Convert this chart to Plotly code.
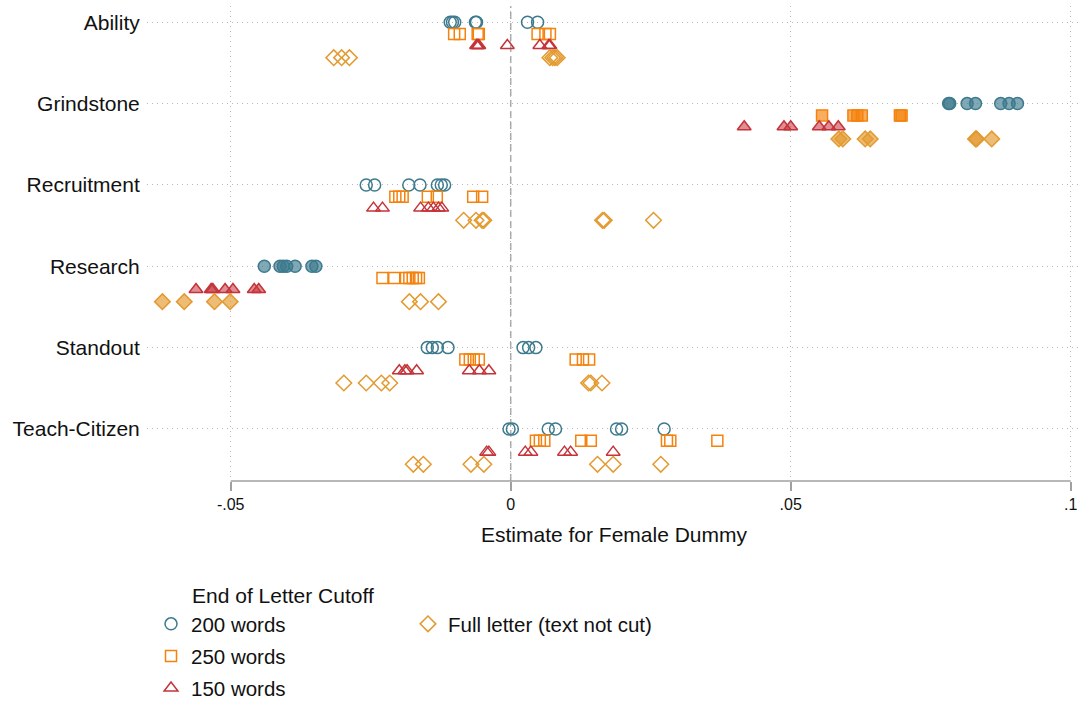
import plotly.graph_objects as go

categories = ["Ability", "Grindstone", "Recruitment", "Research", "Standout", "Teach-Citizen"]

# estimates for the female dummy, one list per category (top to bottom)
words_200 = [
    [-0.0108, -0.0104, -0.0100, -0.0063, -0.0061, 0.0030, 0.0048],
    [0.0782, 0.0784, 0.0815, 0.0830, 0.0875, 0.0890, 0.0905],
    [-0.0258, -0.0243, -0.0182, -0.0162, -0.0131, -0.0124, -0.0118],
    [-0.0440, -0.0412, -0.0406, -0.0400, -0.0385, -0.0355, -0.0348],
    [-0.0149, -0.0140, -0.0131, -0.0112, 0.0022, 0.0032, 0.0045],
    [-0.0003, 0.0003, 0.0067, 0.0080, 0.0189, 0.0198, 0.0274],
]
words_250 = [
    [-0.0101, -0.0091, -0.0059, -0.0057, 0.0048, 0.0062, 0.0070],
    [0.0556, 0.0612, 0.0619, 0.0627, 0.0695, 0.0698],
    [-0.0206, -0.0199, -0.0193, -0.0148, -0.0132, -0.0067, -0.0051],
    [-0.0229, -0.0208, -0.0187, -0.0181, -0.0175, -0.0169, -0.0164],
    [-0.0081, -0.0073, -0.0066, -0.0057, 0.0116, 0.0129, 0.0140],
    [0.0045, 0.0052, 0.0060, 0.0126, 0.0143, 0.0279, 0.0285, 0.0369],
]
words_150 = [
    [-0.0061, -0.0059, -0.0057, -0.0006, 0.0052, 0.0068, 0.0070],
    [0.0417, 0.0488, 0.0500, 0.0551, 0.0568, 0.0585],
    [-0.0245, -0.0229, -0.0161, -0.0147, -0.0138, -0.0129, -0.0123],
    [-0.0562, -0.0535, -0.0532, -0.0510, -0.0496, -0.0458, -0.0450],
    [-0.0199, -0.0189, -0.0185, -0.0168, -0.0074, -0.0056, -0.0039],
    [-0.0043, -0.0039, 0.0026, 0.0036, 0.0096, 0.0107, 0.0183],
]
full_letter = [
    [-0.0316, -0.0302, -0.0288, 0.0070, 0.0075, 0.0079, 0.0083],
    [0.0586, 0.0593, 0.0633, 0.0642, 0.0830, 0.0832, 0.0859],
    [-0.0084, -0.0062, -0.0051, -0.0048, 0.0164, 0.0167, 0.0255],
    [-0.0622, -0.0583, -0.0529, -0.0501, -0.0181, -0.0161, -0.0129],
    [-0.0298, -0.0258, -0.0231, -0.0216, 0.0139, 0.0143, 0.0163],
    [-0.0174, -0.0156, -0.0071, -0.0048, 0.0155, 0.0183, 0.0268],
]

# 1 = significant (drawn filled), 0 = hollow
sig_200 = [
    [0, 0, 0, 0, 0, 0, 0],
    [1, 1, 1, 1, 1, 1, 1],
    [0, 0, 0, 0, 0, 0, 0],
    [1, 1, 1, 1, 1, 1, 1],
    [0, 0, 0, 0, 0, 0, 0],
    [0, 0, 0, 0, 0, 0, 0],
]
sig_250 = [
    [0, 0, 0, 0, 0, 0, 0],
    [1, 1, 1, 1, 1, 1],
    [0, 0, 0, 0, 0, 0, 0],
    [0, 0, 0, 0, 0, 0, 0],
    [0, 0, 0, 0, 0, 0, 0],
    [0, 0, 0, 0, 0, 0, 0, 0],
]
sig_150 = [
    [0, 0, 0, 0, 0, 0, 0],
    [1, 1, 1, 1, 1, 1],
    [0, 0, 0, 0, 0, 0, 0],
    [1, 1, 1, 1, 1, 1, 1],
    [0, 0, 0, 0, 0, 0, 0],
    [0, 0, 0, 0, 0, 0, 0],
]
sig_full = [
    [0, 0, 0, 0, 0, 0, 0],
    [1, 1, 1, 1, 1, 1, 1],
    [0, 0, 0, 0, 0, 0, 0],
    [1, 1, 1, 1, 0, 0, 0],
    [0, 0, 0, 0, 0, 0, 0],
    [0, 0, 0, 0, 0, 0, 0],
]

FONT = "Liberation Sans, Arial, Helvetica, sans-serif"

series = [
    # name, values, flags, symbol, line colour, fill colour, row offset, size, legend
    ("200 words", words_200, sig_200, "circle", "#3d7a8e", "rgba(61,122,142,0.65)", 0.0, 12, "legend"),
    ("250 words", words_250, sig_250, "square", "#f5820d", "rgba(245,130,13,0.65)", 0.145, 11, "legend"),
    ("150 words", words_150, sig_150, "triangle-up", "#c5333a", "rgba(197,51,58,0.55)", 0.285, 12, "legend"),
    ("Full letter (text not cut)", full_letter, sig_full, "diamond", "#e39a2f", "rgba(227,154,47,0.65)", 0.435, 12, "legend2"),
]

fig = go.Figure()
for name, vals, flags, sym, col, fill, off, size, leg in series:
    xs, ys, fills = [], [], []
    for i, (row, frow) in enumerate(zip(vals, flags)):
        for v, f in zip(row, frow):
            xs.append(v)
            ys.append(i + off)
            fills.append(fill if f else "rgba(255,255,255,0)")
    fig.add_trace(go.Scatter(
        x=xs, y=ys, mode="markers", name=name, legend=leg,
        legendgroup=name,
        marker=dict(symbol=sym, size=size, color=fills,
                    line=dict(color=col, width=1.5)),
    ))

# Stata-style axis line only across the labelled range, dashed zero line
fig.add_shape(type="line", xref="x", yref="paper", x0=-0.05, x1=0.1, y0=0, y1=0,
              line=dict(color="#a0a0a0", width=1.5))
fig.add_shape(type="line", xref="x", yref="paper", x0=0, x1=0, y0=0, y1=1,
              line=dict(color="#a8a8a8", width=1.5, dash="7px,4px"), layer="below")

fig.add_annotation(text="End of Letter Cutoff", xref="paper", yref="paper",
                   x=0.0461, y=-0.242, xanchor="left", yanchor="middle",
                   showarrow=False, font=dict(size=21, color="#111"))

fig.update_layout(
    width=1083, height=701,
    margin=dict(l=147, r=2, t=6, b=220, autoexpand=False),
    plot_bgcolor="white", paper_bgcolor="white",
    font=dict(family=FONT, size=21, color="#111"),
    legend=dict(x=0.0043, y=-0.259, xanchor="left", yanchor="top",
                traceorder="grouped", tracegroupgap=2.4,
                font=dict(size=20.5), bgcolor="rgba(0,0,0,0)"),
    legend2=dict(x=0.2794, y=-0.259, xanchor="left", yanchor="top",
                 font=dict(size=20.5), bgcolor="rgba(0,0,0,0)"),
    xaxis=dict(
        range=[-0.06495, 0.10184],
        tickvals=[-0.05, 0, 0.05, 0.1], ticktext=["-.05", "0", ".05", ".1"],
        ticks="outside", ticklen=9, tickwidth=1.5, tickcolor="#a0a0a0",
        tickfont=dict(size=16), ticklabeloverflow="allow",
        showgrid=True, gridcolor="#b8b8b8", griddash="1px,4px", gridwidth=1,
        zeroline=False, showline=False,
        title=dict(text="Estimate for Female Dummy", standoff=15, font=dict(size=21)),
    ),
    yaxis=dict(
        range=[5.64, -0.2],
        tickvals=list(range(len(categories))), ticktext=categories,
        ticks="outside", ticklen=2, tickcolor="rgba(0,0,0,0)",
        tickfont=dict(size=21),
        showgrid=True, gridcolor="#b8b8b8", griddash="1px,4px", gridwidth=1,
        zeroline=False, showline=False,
    ),
)

# drop the page's default body margin so the figure sits at the window corner
fig.write_html("out.html", config={"displayModeBar": False},
               post_script="document.body.style.margin = '0';")
